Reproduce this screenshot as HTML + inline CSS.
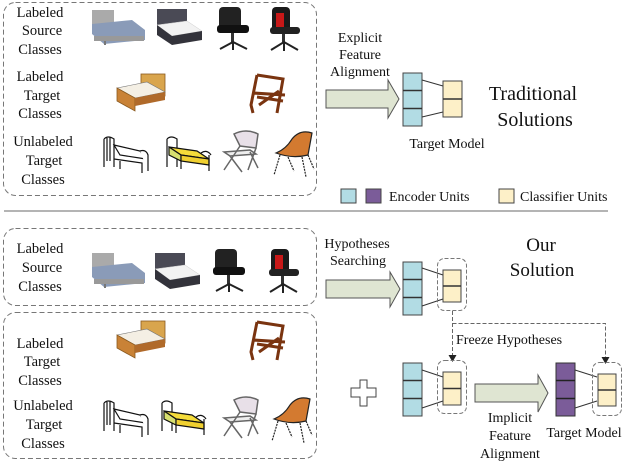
<!DOCTYPE html>
<html><head><meta charset="utf-8"><style>
html,body{margin:0;padding:0;background:#fff;}
svg{display:block;}
text{font-family:"Liberation Serif",serif;fill:#111;}
</style></head><body>
<svg width="638" height="464" viewBox="0 0 638 464" xmlns="http://www.w3.org/2000/svg">
<defs>
<g id="greybed"><rect x="0" y="0" width="22" height="14" fill="#aaa"/><path d="M0 14 L40 10 L53 20 L53 30 L12 34 L0 24Z" fill="#8a9bb8"/><rect x="2" y="26" width="50" height="5" fill="#999"/><rect x="12" y="31" width="2" height="4" fill="#777"/></g>
<g id="darkbed"><rect x="0" y="0" width="30" height="16" fill="#4a4a55"/><path d="M0 16 L30 12 L45 22 L15 27 Z" fill="#f2f2f2" stroke="#ccc" stroke-width="0.5"/><path d="M0 16 L15 27 L45 22 L45 31 L15 36 L0 26Z" fill="#33333b"/></g>
<g id="office"><rect x="2" y="0" width="22" height="22" rx="4" fill="#222"/><rect x="0" y="18" width="32" height="8" rx="3" fill="#111"/><rect x="14" y="26" width="3" height="9" fill="#333"/><path d="M3 42 L16 35 L30 42 M16 35 L16 43" stroke="#222" stroke-width="2" fill="none"/></g>
<g id="gaming"><rect x="4" y="0" width="18" height="24" rx="4" fill="#1a1a1a"/><rect x="8" y="6" width="8" height="14" fill="#c81818"/><rect x="2" y="20" width="30" height="7" rx="3" fill="#222"/><rect x="14" y="27" width="3" height="8" fill="#333"/><path d="M3 43 L16 35 L30 43 M16 35 L16 44" stroke="#222" stroke-width="2" fill="none"/></g>
<g id="woodbed"><rect x="24" y="0" width="24" height="22" fill="#d9a54d" stroke="#8a5a20" stroke-width="0.8"/><path d="M0 14 L30 8 L48 18 L18 24Z" fill="#f4efe4" stroke="#777" stroke-width="0.6"/><path d="M0 14 L18 24 L18 37 L0 27Z" fill="#c98236" stroke="#8a5a20" stroke-width="0.8"/><path d="M18 24 L48 18 L48 26 L18 32Z" fill="#b06a2a"/></g>
<g id="woodchair" stroke="#7a3410" stroke-width="3" fill="none"><path d="M8 0 L34 4 L28 38 M8 0 L2 30 L4 38 M4 18 L36 20 M10 30 L30 16 M8 22 L34 26"/></g>
<g id="wirebed" stroke="#111" stroke-width="1.2" fill="#fff"><path d="M2 2 L2 30 M2 2 Q6 -2 12 2 L12 30 M5 1 L5 24 M8 0 L8 24"/><path d="M12 8 L38 14 L44 22 L18 18Z"/><path d="M12 22 L40 26 L40 36 M18 24 L18 32" /><path d="M38 14 Q44 12 46 18 L46 34"/></g>
<g id="yellowbed" stroke="#111" stroke-width="1.2"><path d="M2 2 L2 30 M2 2 Q6 -2 12 2 L12 30" fill="none"/><path d="M4 10 L32 14 L44 22 L16 18Z" fill="#f5dc3a"/><path d="M4 10 L16 18 L16 24 L4 18Z" fill="#d8e070"/><path d="M16 18 L44 22 L44 28 L16 24Z" fill="#f0d030"/><path d="M16 24 L16 32 M44 18 L44 34 M36 16 Q42 12 46 18" fill="none"/></g>
<g id="foldchair" stroke="#666" stroke-width="1.5"><path d="M14 4 Q26 -2 38 4 L36 18 L20 16Z" fill="#e8e0e8"/><path d="M4 22 L30 20 L36 24 L10 26Z" fill="#eee"/><path d="M20 16 L4 40 M36 18 L28 40 M10 26 L22 42 M30 22 L38 38" fill="none"/></g>
<g id="orangechair" stroke="#222" stroke-width="1.2"><path d="M20 8 Q28 -2 40 2 L36 24 Q20 28 4 22 Q14 18 20 8Z" fill="#d37a30"/><path d="M8 24 L2 44 M16 26 L22 40 M30 26 L34 46 M36 24 L42 38" fill="none" stroke-dasharray="2 1"/></g>
</defs>

<!-- TOP SECTION -->
<rect x="3.5" y="2.5" width="313" height="193" rx="12" fill="none" stroke="#777" stroke-dasharray="5 3"/>
<g font-size="14.5" text-anchor="middle">
<text x="40" y="17">Labeled</text><text x="42" y="35">Source</text><text x="40" y="54">Classes</text>
<text x="40" y="81">Labeled</text><text x="42" y="100">Target</text><text x="40" y="118">Classes</text>
<text x="43" y="146">Unlabeled</text><text x="44" y="165">Target</text><text x="43" y="184">Classes</text>
</g>
<use href="#greybed" x="92" y="10"/>
<use href="#darkbed" x="157" y="9"/>
<use href="#office" x="217" y="7"/>
<use href="#gaming" x="268" y="7"/>
<use href="#woodbed" x="117" y="74"/>
<use href="#woodchair" x="249" y="75"/>
<use href="#wirebed" x="102" y="137"/>
<use href="#yellowbed" x="165" y="137"/>
<use href="#foldchair" x="220" y="130"/>
<use href="#orangechair" x="272" y="131"/>

<g font-size="14" text-anchor="middle">
<text x="360" y="42">Explicit</text><text x="360" y="59">Feature</text><text x="360" y="76">Alignment</text>
</g>
<path d="M326 90 L388 90 L388 80 L399 99 L388 118 L388 108 L326 108Z" fill="#dfe5d2" stroke="#555"/>
<rect x="403" y="73" width="19" height="53" fill="#b2dce4" stroke="#444"/>
<path d="M403 90.5 H422 M403 108.5 H422" stroke="#333" stroke-width="1.5"/>
<path d="M422 80 L443 86 M422 117 L443 112" stroke="#333"/>
<rect x="443" y="81" width="19" height="36" fill="#fdf0c8" stroke="#444"/>
<path d="M443 99 H462" stroke="#333" stroke-width="1.5"/>
<text x="447" y="148" font-size="14" text-anchor="middle">Target Model</text>
<text x="533" y="100" font-size="20" text-anchor="middle">Traditional</text>
<text x="535" y="126" font-size="20" text-anchor="middle">Solutions</text>

<rect x="341" y="189" width="15" height="14" fill="#b2dce4" stroke="#444"/>
<rect x="366" y="189" width="15" height="14" fill="#7b5c99" stroke="#444"/>
<text x="389" y="201" font-size="14">Encoder Units</text>
<rect x="499" y="189" width="15" height="14" fill="#fdf0c8" stroke="#444"/>
<text x="520" y="201" font-size="14">Classifier Units</text>
<line x1="4" y1="211" x2="608" y2="211" stroke="#888" stroke-width="1.2"/>

<!-- BOTTOM SECTION -->
<rect x="3.5" y="228.5" width="313" height="77" rx="12" fill="none" stroke="#777" stroke-dasharray="5 3"/>
<g font-size="14.5" text-anchor="middle">
<text x="40" y="253">Labeled</text><text x="42" y="272">Source</text><text x="40" y="291">Classes</text>
</g>
<use href="#greybed" x="92" y="253"/>
<use href="#darkbed" x="155" y="253"/>
<use href="#office" x="213" y="249"/>
<use href="#gaming" x="267" y="249"/>

<rect x="3.5" y="312.5" width="313" height="146" rx="12" fill="none" stroke="#777" stroke-dasharray="5 3"/>
<g font-size="14.5" text-anchor="middle">
<text x="40" y="348">Labeled</text><text x="42" y="366">Target</text><text x="40" y="385">Classes</text>
<text x="43" y="410">Unlabeled</text><text x="44" y="429">Target</text><text x="43" y="448">Classes</text>
</g>
<use href="#woodbed" x="117" y="321"/>
<use href="#woodchair" x="249" y="322"/>
<use href="#wirebed" x="102" y="401"/>
<use href="#yellowbed" x="160" y="401"/>
<use href="#foldchair" x="220" y="396"/>
<use href="#orangechair" x="270" y="397"/>

<g font-size="14" text-anchor="middle">
<text x="357" y="248">Hypotheses</text><text x="358" y="265">Searching</text>
</g>
<path d="M326 280 L390 280 L390 272 L400 289 L390 307 L390 298 L326 298Z" fill="#dfe5d2" stroke="#555"/>
<rect x="403" y="262" width="19" height="53" fill="#b2dce4" stroke="#444"/>
<path d="M403 279.5 H422 M403 297.5 H422" stroke="#333" stroke-width="1.5"/>
<path d="M422 268 L443 275 M422 306 L443 299" stroke="#333"/>
<rect x="437.5" y="258.5" width="29" height="52" rx="7" fill="none" stroke="#777" stroke-dasharray="4 2"/>
<rect x="443" y="270" width="18" height="32" fill="#fdf0c8" stroke="#444"/>
<path d="M443 286 H461" stroke="#333" stroke-width="1.5"/>
<text x="541" y="251" font-size="19" text-anchor="middle">Our</text>
<text x="542" y="276" font-size="19" text-anchor="middle">Solution</text>

<path d="M452.5 311 V356 M452.5 323.5 H605.5 V358" fill="none" stroke="#666" stroke-dasharray="4 2"/>
<path d="M448.5 355 L452.5 362 L456.5 355Z M601.5 357 L605.5 364 L609.5 357Z" fill="#222"/>
<text x="456" y="344" font-size="14">Freeze Hypotheses</text>

<path d="M360 380 H367 V388 H376 V397 H367 V406 H360 V397 H351 V388 H360Z" fill="#fff" stroke="#444"/>
<rect x="403" y="363" width="19" height="53" fill="#b2dce4" stroke="#444"/>
<path d="M403 380.5 H422 M403 398.5 H422" stroke="#333" stroke-width="1.5"/>
<path d="M422 370 L443 377 M422 408 L443 401" stroke="#333"/>
<rect x="437.5" y="360.5" width="29" height="53" rx="7" fill="none" stroke="#777" stroke-dasharray="4 2"/>
<rect x="443" y="372" width="18" height="33" fill="#fdf0c8" stroke="#444"/>
<path d="M443 388.5 H461" stroke="#333" stroke-width="1.5"/>

<path d="M475 384 L538 384 L538 375 L548 393 L538 412 L538 402 L475 402Z" fill="#dfe5d2" stroke="#555"/>
<rect x="556" y="363" width="19" height="53" fill="#7b5c99" stroke="#333"/>
<path d="M556 380.5 H575 M556 398.5 H575" stroke="#222" stroke-width="1.5"/>
<path d="M575 370 L597 377 M575 408 L597 401" stroke="#333"/>
<rect x="592.5" y="362.5" width="29" height="53" rx="7" fill="none" stroke="#777" stroke-dasharray="4 2"/>
<rect x="598" y="374" width="18" height="32" fill="#fdf0c8" stroke="#444"/>
<path d="M598 390 H616" stroke="#333" stroke-width="1.5"/>
<g font-size="14" text-anchor="middle">
<text x="510" y="422">Implicit</text><text x="510" y="440">Feature</text><text x="510" y="458">Alignment</text>
<text x="584" y="437">Target Model</text>
</g>
</svg>
</body></html>
